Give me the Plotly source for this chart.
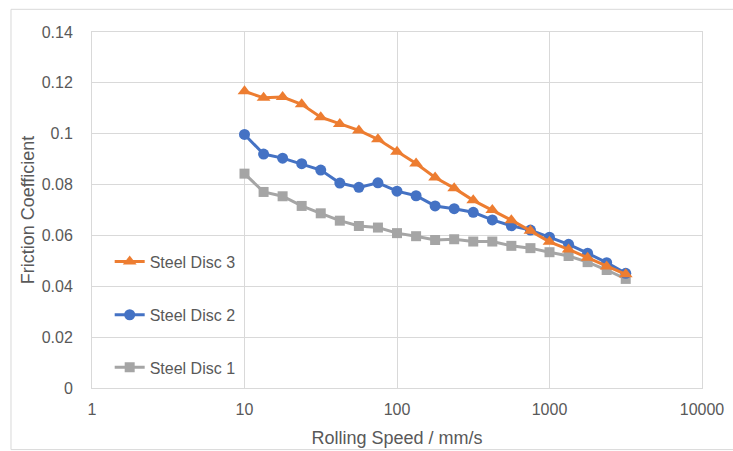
import plotly.graph_objects as go

# Rolling speed (mm/s), log-spaced test points
speed = [10, 13.34, 17.78, 23.71, 31.62, 42.17, 56.23, 74.99, 100, 133.4,
         177.8, 237.1, 316.2, 421.7, 562.3, 749.9, 1000, 1334, 1778, 2371, 3162]

disc3 = [0.1167, 0.1141, 0.1144, 0.1116, 0.1065, 0.1038, 0.1013, 0.0978, 0.0929, 0.0883,
         0.0828, 0.0786, 0.0738, 0.0700, 0.0660, 0.0618, 0.0575, 0.0545, 0.0512, 0.0478, 0.0447]
disc2 = [0.0997, 0.0920, 0.0904, 0.0882, 0.0857, 0.0806, 0.0789, 0.0807, 0.0774, 0.0756,
         0.0716, 0.0705, 0.0691, 0.0661, 0.0638, 0.0621, 0.0593, 0.0565, 0.0530, 0.0493, 0.0451]
disc1 = [0.0843, 0.0771, 0.0754, 0.0716, 0.0687, 0.0658, 0.0637, 0.0631, 0.0609, 0.0597,
         0.0582, 0.0585, 0.0576, 0.0576, 0.0559, 0.0550, 0.0534, 0.0519, 0.0495, 0.0464, 0.0429]

y_ticks = [0, 0.02, 0.04, 0.06, 0.08, 0.1, 0.12, 0.14]
y_labels = ["0", "0.02", "0.04", "0.06", "0.08", "0.1", "0.12", "0.14"]
x_ticks = [1, 10, 100, 1000, 10000]
x_labels = ["1", "10", "100", "1000", "10000"]

FONT = "Liberation Sans"
TXT = "#595959"
GRID = "#d9d9d9"

series = [
    ("Steel Disc 1", disc1, "#A5A5A5", "square", 10, "legend3"),
    ("Steel Disc 2", disc2, "#4472C4", "circle", 11, "legend2"),
    ("Steel Disc 3", disc3, "#ED7D31", "triangle-up", 12, "legend"),
]

fig = go.Figure()
for name, vals, color, sym, size, leg in series:
    fig.add_trace(go.Scatter(
        x=speed, y=vals, name=name, mode="lines+markers",
        line=dict(color=color, width=3),
        marker=dict(symbol=sym, size=size, color=color),
        legend=leg, showlegend=True,
    ))

leg_common = dict(x=0.029, xanchor="left", yanchor="middle",
                  bgcolor="rgba(0,0,0,0)", font=dict(family=FONT, size=16, color=TXT))

fig.update_layout(
    width=733, height=451,
    margin=dict(l=92, r=31, t=32, b=63),
    paper_bgcolor="white", plot_bgcolor="white",
    font=dict(family=FONT, color=TXT),
    showlegend=True,
    legend=dict(y=0.355, **leg_common),
    legend2=dict(y=0.2055, **leg_common),
    legend3=dict(y=0.058, **leg_common),
    xaxis=dict(
        type="log", range=[0, 4], automargin=False,
        tickvals=x_ticks, ticktext=x_labels,
        showgrid=True, gridcolor=GRID, gridwidth=1,
        showline=True, linecolor=GRID, linewidth=1, mirror=True,
        ticks="", ticklabelstandoff=7, tickfont=dict(family=FONT, size=16, color=TXT),
        title=dict(text="Rolling Speed / mm/s", font=dict(family=FONT, size=18, color=TXT), standoff=14),
        zeroline=False,
    ),
    yaxis=dict(
        range=[0, 0.14], automargin=False,
        tickvals=y_ticks, ticktext=y_labels,
        showgrid=True, gridcolor=GRID, gridwidth=1,
        showline=True, linecolor=GRID, linewidth=1, mirror=True,
        ticks="", ticklabelstandoff=15, tickfont=dict(family=FONT, size=16, color=TXT),
        title=dict(text="Friction Coefficient", font=dict(family=FONT, size=18, color=TXT), standoff=2),
        zeroline=False,
    ),
)

# outer chart frame
fig.add_shape(type="rect", xref="paper", yref="paper",
              x0=-0.1328, x1=1.08, y0=-0.173, y1=1.0637,
              line=dict(color=GRID, width=1), fillcolor="rgba(0,0,0,0)", layer="below")

fig.write_html("out.html")
